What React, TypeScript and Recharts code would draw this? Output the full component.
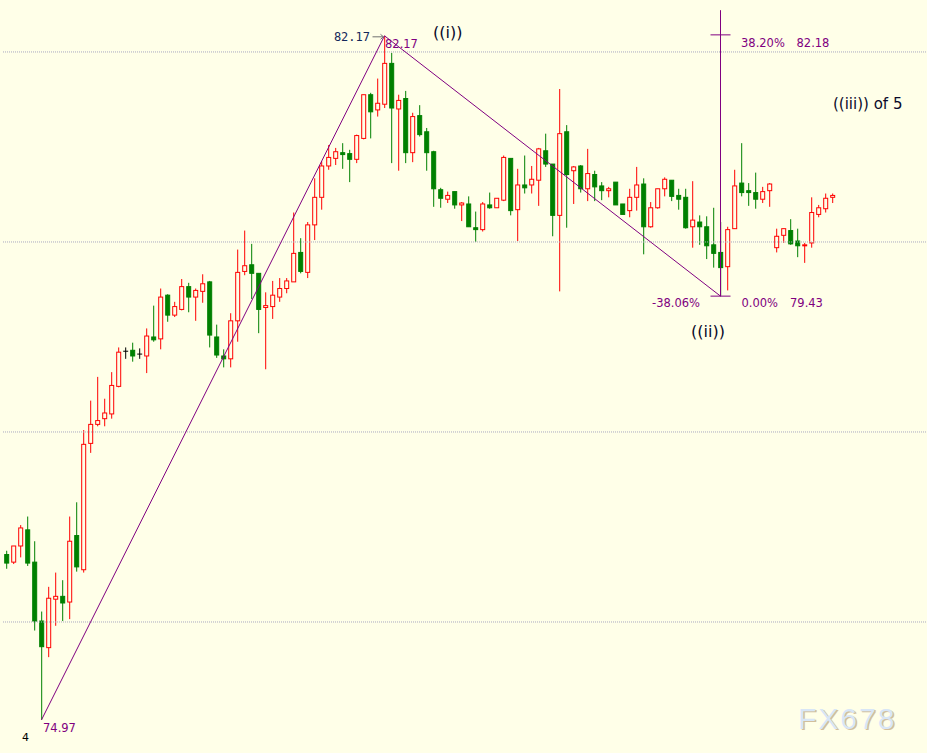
import { Bar, ComposedChart, Line, ReferenceDot, ReferenceLine, XAxis, YAxis } from 'recharts';

const BG = '#FFFFE8';
const UP = '#FF0000';
const DOWN = '#008000';
const DOJI = '#000000';
const WAVE = '#800080';
const INK = '#0a0a2a';
const SANS = '"DejaVu Sans", Verdana, sans-serif';
const MONO = '"DejaVu Sans Mono", monospace';

const opens = [
  76.71, 76.63, 76.8, 76.97, 76.63, 76.01, 75.73, 76.24, 76.27, 76.21,
  76.91, 76.55, 77.88, 78.08, 78.14, 78.19, 78.48, 78.85, 78.86, 78.82,
  78.8, 79.0, 78.98, 79.44, 79.23, 79.29, 79.53, 79.42, 79.48, 79.58,
  79.0, 78.8, 78.77, 79.17, 79.69, 79.76, 79.67, 79.31, 79.32, 79.42,
  79.51, 79.58, 79.89, 79.68, 80.18, 80.47, 80.8, 80.88, 80.94, 80.93,
  80.87, 81.09, 81.55, 81.39, 81.45, 81.88, 81.4, 81.51, 80.94, 81.33,
  81.16, 80.95, 80.55, 80.45, 80.53, 80.39, 80.4, 80.15, 80.13, 80.39,
  80.36, 80.44, 80.88, 80.34, 80.6, 80.6, 80.65, 80.96, 80.82, 80.28,
  81.16, 80.75, 80.8, 80.56, 80.71, 80.59, 80.54, 80.63, 80.4, 80.33,
  80.47, 80.61, 80.16, 80.36, 80.56, 80.65, 80.49, 80.47, 80.16, 80.21,
  80.16, 79.97, 79.89, 79.74, 80.14, 80.62, 80.54, 80.52, 80.45, 80.54,
  79.94, 80.07, 80.12, 80.01, 79.96, 79.99, 80.29, 80.35, 80.47,
];
const highs = [
  76.75, 76.8, 77.02, 77.11, 76.85, 76.11, 76.37, 76.52, 76.44, 77.11,
  77.26, 78.02, 78.33, 78.58, 78.35, 78.63, 78.89, 78.89, 78.94, 78.88,
  79.09, 79.33, 79.51, 79.45, 79.37, 79.61, 79.57, 79.51, 79.66, 79.59,
  79.13, 78.87, 79.25, 79.92, 80.12, 79.98, 79.67, 79.47, 79.59, 79.62,
  79.62, 80.31, 80.04, 80.21, 80.67, 80.85, 81.02, 80.99, 81.04, 80.97,
  81.13, 81.55, 81.57, 81.72, 82.17, 81.99, 81.55, 81.59, 81.36, 81.44,
  81.2, 80.96, 80.57, 80.53, 80.53, 80.42, 80.48, 80.32, 80.42, 80.52,
  80.46, 80.91, 80.88, 80.77, 80.91, 80.8, 80.99, 81.14, 80.82, 81.61,
  81.23, 80.8, 80.81, 80.98, 80.75, 80.63, 80.58, 80.63, 80.4, 80.56,
  80.79, 80.67, 80.42, 80.56, 80.68, 80.65, 80.56, 80.56, 80.64, 80.28,
  80.27, 80.36, 80.21, 80.16, 80.76, 81.04, 80.62, 80.73, 80.58, 80.62,
  80.14, 80.14, 80.24, 80.14, 79.99, 80.47, 80.39, 80.51, 80.51,
];
const lows = [
  76.56, 76.61, 76.68, 76.59, 75.91, 74.97, 75.63, 75.96, 76.01, 76.03,
  76.53, 76.52, 77.78, 78.06, 78.06, 78.14, 78.47, 78.77, 78.74, 78.77,
  78.62, 78.95, 78.87, 79.16, 79.21, 79.28, 79.26, 79.17, 79.36, 78.89,
  78.78, 78.68, 78.68, 78.95, 79.65, 79.4, 79.04, 78.66, 79.19, 79.37,
  79.46, 79.58, 79.67, 79.62, 80.02, 80.34, 80.76, 80.81, 80.77, 80.63,
  80.83, 81.08, 81.09, 81.32, 81.41, 80.83, 80.75, 80.83, 80.84, 81.11,
  80.75, 80.37, 80.36, 80.41, 80.35, 80.22, 80.16, 80.0, 80.11, 80.35,
  80.36, 80.43, 80.28, 80.01, 80.51, 80.51, 80.38, 80.79, 80.06, 79.48,
  80.15, 80.4, 80.52, 80.43, 80.43, 80.44, 80.47, 80.39, 80.29, 80.26,
  80.33, 79.87, 80.15, 80.35, 80.48, 80.43, 80.34, 80.14, 79.94, 79.97,
  79.82, 79.73, 79.43, 79.49, 80.14, 80.48, 80.38, 80.35, 80.41, 80.37,
  79.89, 79.99, 79.97, 79.84, 79.78, 79.94, 80.26, 80.31, 80.41,
];
const closes = [
  76.62, 76.8, 76.99, 76.62, 76.01, 75.74, 76.25, 76.27, 76.2, 76.85,
  76.58, 77.87, 78.08, 78.12, 78.2, 78.49, 78.84, 78.85, 78.8, 78.82,
  79.01, 78.97, 79.42, 79.23, 79.32, 79.53, 79.42, 79.49, 79.56, 79.02,
  78.81, 78.77, 79.17, 79.68, 79.75, 79.67, 79.29, 79.33, 79.44, 79.51,
  79.59, 79.88, 79.69, 80.18, 80.47, 80.8, 80.89, 80.95, 80.92, 80.87,
  81.12, 81.55, 81.37, 81.46, 81.88, 81.41, 81.49, 80.94, 81.32, 81.13,
  80.94, 80.56, 80.46, 80.49, 80.39, 80.41, 80.16, 80.13, 80.4, 80.36,
  80.46, 80.89, 80.33, 80.6, 80.57, 80.66, 80.98, 80.82, 80.28, 81.14,
  80.71, 80.79, 80.56, 80.72, 80.58, 80.54, 80.56, 80.39, 80.29, 80.47,
  80.6, 80.16, 80.36, 80.56, 80.66, 80.48, 80.45, 80.15, 80.23, 80.16,
  79.96, 79.88, 79.73, 80.13, 80.59, 80.52, 80.52, 80.45, 80.53, 80.61,
  80.06, 80.14, 79.98, 79.96, 79.97, 80.31, 80.36, 80.46, 80.49,
];

const gridLevels = [76, 78, 80, 82];
const waveIdx = [5, 54, 102];
const waveVals = [74.97, 82.17, 79.43];
const fibIdx = 102;
const fibLevels = [82.18, 79.43];
const fibTopEnd = 82.44;

// empty slots on the right so the band width stays ~7px across the window
const SLOTS = 132;

const data = Array.from({ length: SLOTS }, (_, i) => {
  const has = i < opens.length;
  const w = waveIdx.indexOf(i);
  return {
    i,
    o: has ? opens[i] : null,
    h: has ? highs[i] : null,
    l: has ? lows[i] : null,
    c: has ? closes[i] : null,
    range: has ? [lows[i], highs[i]] : null,
    wave: w >= 0 ? waveVals[w] : null,
  };
});

type Note = {
  x: number;
  y: number;
  text: string;
  dx: number;
  dy: number;
  color: string;
  size: number;
  anchor?: 'start' | 'middle' | 'end';
  font?: string;
};

const notes: Note[] = [
  { x: 5, y: 74.97, text: '74.97', dx: 1.5, dy: 12, color: WAVE, size: 11.5 },
  { x: 54, y: 82.17, text: '82.17', dx: 0.5, dy: 12.5, color: WAVE, size: 11.5 },
  { x: 54, y: 82.17, text: '82.17', dx: -14.5, dy: 5, color: '#14285a', size: 12, anchor: 'end', font: MONO },
  { x: 54, y: 82.17, text: '((i))', dx: 48.5, dy: 2, color: INK, size: 16 },
  { x: 102, y: 82.18, text: '38.20%', dx: 20.5, dy: 12, color: WAVE, size: 11.5 },
  { x: 102, y: 82.18, text: '82.18', dx: 76, dy: 12, color: WAVE, size: 11.5 },
  { x: 102, y: 79.43, text: '-38.06%', dx: -20.5, dy: 10.5, color: WAVE, size: 11.5, anchor: 'end' },
  { x: 102, y: 79.43, text: '0.00%', dx: 21, dy: 10.5, color: WAVE, size: 11.5 },
  { x: 102, y: 79.43, text: '79.43', dx: 69.5, dy: 10.5, color: WAVE, size: 11.5 },
  { x: 102, y: 79.43, text: '((ii))', dx: -12.5, dy: 41, color: INK, size: 16, anchor: 'middle' },
  { x: 118, y: 81.4, text: '((iii)) of 5', dx: 0.5, dy: 0, color: INK, size: 15 },
  { x: 2, y: 74.97, text: '4', dx: 1.5, dy: 21, color: '#000', size: 11 },
];

const Candle = (props: any) => {
  const { x, y, width, height, payload } = props;
  if (!payload || payload.h == null) return null;
  const top = Math.min(y, y + height);
  const bot = Math.max(y, y + height);
  const span = payload.h - payload.l || 1;
  const py = (v: number) => top + ((payload.h - v) / span) * (bot - top);
  const cx = x + width / 2;
  const flat = payload.c === payload.o;
  const up = payload.c > payload.o;
  const color = flat ? DOJI : up ? UP : DOWN;
  const yo = py(payload.o);
  const yc = py(payload.c);
  const bt = Math.min(yo, yc);
  const bb = Math.max(yo, yc);
  return (
    <g>
      <line x1={cx} x2={cx} y1={top} y2={bot} stroke={color} strokeWidth={1} />
      {flat ? (
        <line x1={cx - 2.5} x2={cx + 2.5} y1={yo} y2={yo} stroke={color} strokeWidth={1} />
      ) : (
        <rect
          x={cx - 2}
          y={bt}
          width={4}
          height={Math.max(bb - bt, 1)}
          fill={up ? BG : color}
          stroke={color}
          strokeWidth={1}
        />
      )}
    </g>
  );
};

const Tick = (p: any) => (
  <line x1={p.cx - 10} x2={p.cx + 10} y1={p.cy} y2={p.cy} stroke={WAVE} strokeWidth={1} />
);

const App = () => {
  return (
    <div style={{ position: 'absolute', left: 0, top: 0, width: 927, height: 753, background: BG }}>
      <ComposedChart
        width={927}
        height={753}
        data={data}
        margin={{ top: 0, right: 0, bottom: 0, left: 3 }}
      >
        <XAxis dataKey="i" type="category" hide />
        <YAxis type="number" domain={[74.621, 82.547]} allowDataOverflow hide />
        {gridLevels.map((v) => (
          <ReferenceLine key={v} y={v} stroke="#a8a8c0" strokeDasharray="1 1" />
        ))}
        <Bar dataKey="range" shape={<Candle />} isAnimationActive={false} />
        <Line
          dataKey="wave"
          type="linear"
          connectNulls
          dot={false}
          stroke={WAVE}
          strokeWidth={1}
          isAnimationActive={false}
        />
        <ReferenceLine
          segment={[
            { x: fibIdx, y: fibLevels[1] },
            { x: fibIdx, y: fibTopEnd },
          ]}
          stroke={WAVE}
        />
        {fibLevels.map((v) => (
          <ReferenceDot key={v} x={fibIdx} y={v} r={0} shape={<Tick />} />
        ))}
        <ReferenceDot
          x={waveIdx[1]}
          y={waveVals[1]}
          r={0}
          shape={(p: any) => (
            <g stroke="#707070" fill="none" strokeWidth={1}>
              <line x1={p.cx - 12} x2={p.cx - 1} y1={p.cy + 1} y2={p.cy + 1} />
              <polyline points={`${p.cx - 4},${p.cy - 1.5} ${p.cx - 1},${p.cy + 1} ${p.cx - 4},${p.cy + 3.5}`} />
            </g>
          )}
        />
        {notes.map((n, k) => (
          <ReferenceDot
            key={k}
            x={n.x}
            y={n.y}
            r={0}
            shape={(p: any) => (
              <text
                x={p.cx + n.dx}
                y={p.cy + n.dy}
                fill={n.color}
                fontSize={n.size}
                fontFamily={n.font || SANS}
                textAnchor={n.anchor || 'start'}
              >
                {n.text}
              </text>
            )}
          />
        ))}
        <ReferenceDot
          x={113}
          y={74.97}
          r={0}
          shape={(p: any) => (
            <g fontFamily='"Liberation Sans", Arial, sans-serif' fontSize={30} letterSpacing={2}>
              <text x={p.cx + 2} y={p.cy + 10.5} fill="#c8b08a" opacity={0.8}>
                FX678
              </text>
              <text x={p.cx + 0.5} y={p.cy + 9} fill="#d8e6f6">
                FX678
              </text>
            </g>
          )}
        />
      </ComposedChart>
    </div>
  );
};

export default App;
